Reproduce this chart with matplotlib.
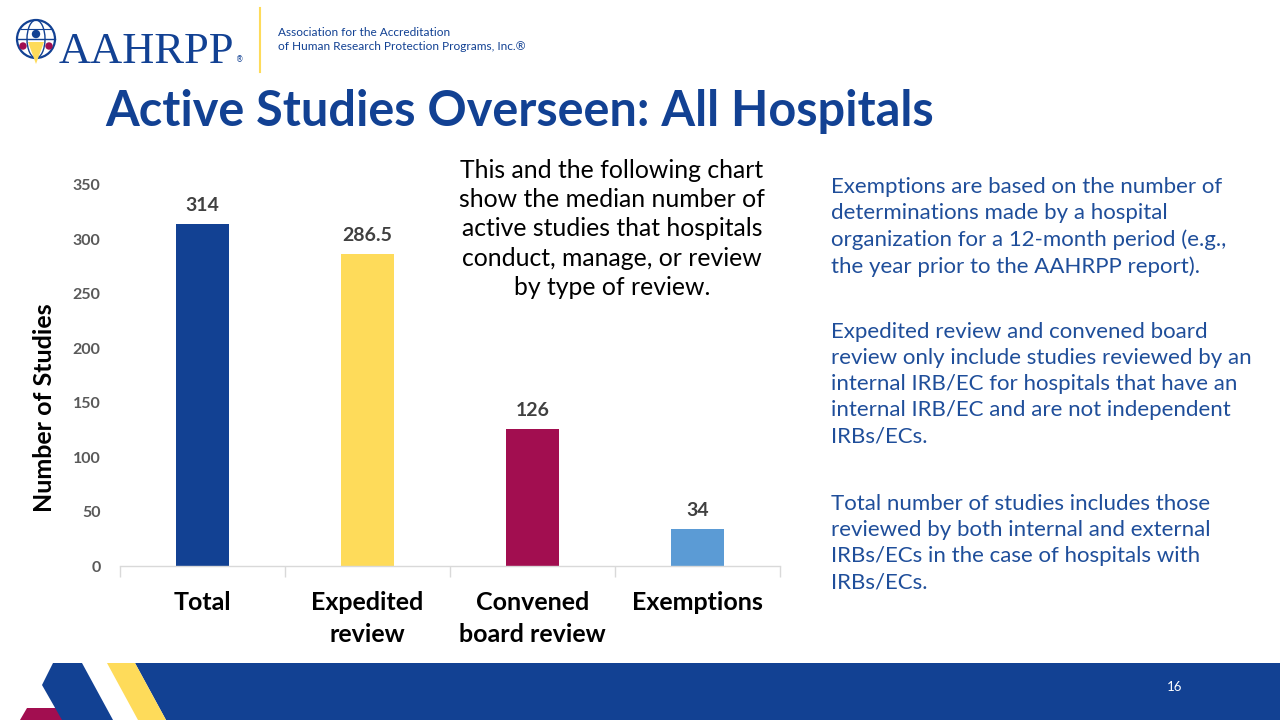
import matplotlib
matplotlib.use("Agg")
import matplotlib.pyplot as plt
from matplotlib.patches import Polygon, Circle, Ellipse

categories = ["Total", "Expedited\nreview", "Convened\nboard review", "Exemptions"]
values = [314, 286.5, 126, 34]
value_labels = ["314", "286.5", "126", "34"]
bar_colors = ["#124193", "#FEDB5A", "#A20E50", "#5B9BD5"]
y_ticks = [0, 50, 100, 150, 200, 250, 300, 350]

title = "Active Studies Overseen: All Hospitals"
y_label = "Number of Studies"
center_note = ("This and the following chart\nshow the median number of\nactive studies that hospitals\n"
               "conduct, manage, or review\nby type of review.")
right_notes = [
    "Exemptions are based on the number of\ndeterminations made by a hospital\norganization for a 12-month period (e.g.,\nthe year prior to the AAHRPP report).",
    "Expedited review and convened board\nreview only include studies reviewed by an\ninternal IRB/EC for hospitals that have an\ninternal IRB/EC and are not independent\nIRBs/ECs.",
    "Total number of studies includes those\nreviewed by both internal and external\nIRBs/ECs in the case of hospitals with\nIRBs/ECs.",
]
page_number = "16"

BLUE = "#124193"
TEXT_BLUE = "#1F4E9A"
BODY_FONT = ["Lato", "DejaVu Sans"]

fig = plt.figure(figsize=(12.8, 7.2), dpi=100)
fig.patch.set_facecolor("white")

# background/decoration axes in pixel coordinates
bg = fig.add_axes([0, 0, 1, 1])
bg.set_xlim(0, 1280)
bg.set_ylim(720, 0)
bg.axis("off")

# bottom band and chevrons
bg.add_patch(Polygon([(135, 663), (1280, 663), (1280, 720), (166, 720)], closed=True, color=BLUE, lw=0))
bg.add_patch(Polygon([(107, 663), (135, 663), (166, 720), (138, 720)], closed=True, color="#FEDB5A", lw=0))
bg.add_patch(Polygon([(20, 720), (27, 708), (60, 708), (66, 720)], closed=True, color="#A20E50", lw=0))
bg.add_patch(Polygon([(53, 663), (82, 663), (113, 720), (62, 720), (42, 685)], closed=True, color=BLUE, lw=0))
bg.text(1175, 687, page_number, color="white", fontsize=9.5, ha="center", va="center", family=BODY_FONT)

# logo
bg.add_patch(Circle((36, 39), 19, fill=False, ec=BLUE, lw=1.6))
bg.add_patch(Ellipse((36, 39), 18, 38, fill=False, ec=BLUE, lw=1.0))
bg.plot([17, 55], [39, 39], color=BLUE, lw=1.0)
bg.plot([21, 51], [29, 29], color=BLUE, lw=0.8)
bg.add_patch(Polygon([(28, 42), (36, 64), (44, 42)], closed=True, color="#FEDB5A", lw=0))
bg.add_patch(Circle((36, 34), 3.5, color=BLUE))
bg.add_patch(Circle((23, 46), 3, color="#A20E50"))
bg.add_patch(Circle((49, 46), 3, color="#A20E50"))
bg.text(59, 63, "AAHRPP", family=["Liberation Serif", "DejaVu Serif"], fontsize=32, color=BLUE,
        ha="left", va="baseline")
bg.text(236, 62, "®", fontsize=5.5, color=BLUE, ha="left", va="baseline")
bg.plot([260, 260], [8, 72], color="#FEDB5A", lw=1.5)
bg.text(278, 32, "Association for the Accreditation", fontsize=8.6, color=BLUE, ha="left", va="center",
        family=BODY_FONT)
bg.text(278, 47, "of Human Research Protection Programs, Inc.®", fontsize=8.6, color=BLUE, ha="left",
        va="center", family=BODY_FONT)

# title
bg.text(105, 112, title, fontsize=35, fontweight="bold", color=BLUE, ha="left", va="center",
        family=BODY_FONT)

# center note
bg.text(612, 229, center_note, fontsize=17.8, color="black", ha="center", va="center",
        linespacing=1.33, family=BODY_FONT)

# right notes
for txt, ytop in zip(right_notes, [177, 322, 494]):
    bg.text(831, ytop, txt, fontsize=16, color=TEXT_BLUE, ha="left", va="top",
            linespacing=1.38, family=BODY_FONT)

# chart axes
ax = fig.add_axes([120 / 1280, (720 - 566) / 720, 660 / 1280, (566 - 185) / 720])
ax.patch.set_alpha(0)
x = list(range(len(categories)))
bars = ax.bar(x, values, width=0.32, color=bar_colors, zorder=2)
for xi, v, lab in zip(x, values, value_labels):
    ax.text(xi, v + 9, lab, ha="center", va="bottom", fontsize=14, fontweight="bold",
            color="#404040", family=BODY_FONT)

ax.set_xlim(-0.5, len(categories) - 0.5)
ax.set_ylim(0, 350)
ax.set_yticks(y_ticks)
ax.set_yticklabels([str(t) for t in y_ticks], fontsize=11.5, fontweight="bold", color="#595959",
                   family=BODY_FONT)
ax.tick_params(axis="y", length=0, pad=14)
ax.set_xticks([i - 0.5 for i in range(len(categories) + 1)], minor=False)
ax.set_xticklabels([""] * (len(categories) + 1))
ax.tick_params(axis="x", which="major", length=8, color="#D9D9D9", width=1)
ax.set_xticks(x, minor=True)
ax.set_xticklabels(categories, minor=True, fontsize=18, fontweight="bold", color="black",
                   family=BODY_FONT, linespacing=1.45)
ax.tick_params(axis="x", which="minor", length=0, pad=18)
for lab in ax.get_xticklabels(minor=True):
    lab.set_verticalalignment("top")

for s in ["top", "right", "left"]:
    ax.spines[s].set_visible(False)
ax.spines["bottom"].set_color("#D9D9D9")
ax.spines["bottom"].set_linewidth(1)

ax.set_ylabel(y_label, fontsize=18, fontweight="bold", color="black", family=BODY_FONT)
ax.yaxis.set_label_coords(-64 / 660, (566 - 408) / 381)

fig.savefig("out.png", dpi=100, facecolor="white")
